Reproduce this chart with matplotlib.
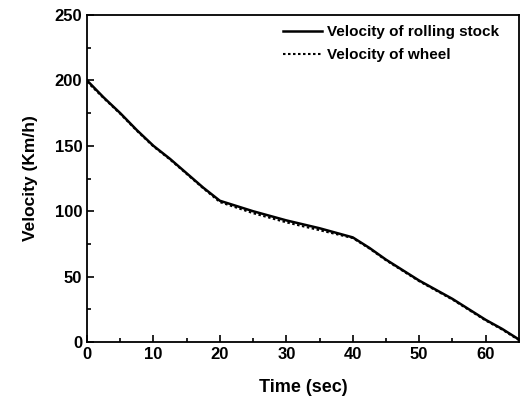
import matplotlib
matplotlib.use("Agg")
import matplotlib.pyplot as plt
from matplotlib.ticker import MultipleLocator

# values
timeSec = [0, 2.5, 5, 7.5, 10, 12.5, 15, 17.5, 20, 25, 30, 35, 40, 42.5, 45, 47.5, 50, 52.5, 55, 57.5, 60, 62.5, 65]
velStock = [200, 187, 175, 162, 150, 140, 129, 118, 108, 100, 93, 87, 80, 72, 63, 55, 47, 40, 33, 25, 17, 10, 2]
velWheel = [199, 186.5, 174.5, 161.5, 149.5, 139.5, 128.5, 117.5, 107, 98.5, 91.5, 85.5, 79.5, 71.5, 62.5, 54.5, 46.5, 39.5, 32.5, 24.5, 16.5, 9.5, 1.5]

plt.rcParams["font.family"] = ["Liberation Sans", "DejaVu Sans"]
plt.rcParams["font.weight"] = "bold"
plt.rcParams["axes.labelweight"] = "bold"

fig = plt.figure(figsize=(5.22, 4.01), dpi=100)
ax = fig.add_axes([0.1667, 0.147, 0.8273, 0.8156])

ax.plot(timeSec, velStock, color="black", lw=1.8, ls="-", label="Velocity of rolling stock")
ax.plot(timeSec, velWheel, color="black", lw=1.5, ls=(0, (1.2, 1.2)), label="Velocity of wheel")

ax.set_xlim(0, 65)
ax.set_ylim(0, 250)
ax.xaxis.set_major_locator(MultipleLocator(10))
ax.xaxis.set_minor_locator(MultipleLocator(5))
ax.yaxis.set_major_locator(MultipleLocator(50))
ax.yaxis.set_minor_locator(MultipleLocator(25))
ax.tick_params(which="both", direction="in", labelsize=12, width=1.2)
ax.tick_params(which="major", length=5)
ax.tick_params(which="minor", length=3)
for s in ax.spines.values():
    s.set_linewidth(1.3)

ax.set_xlabel("Time (sec)", fontsize=13, labelpad=12)
ax.set_ylabel("Velocity (Km/h)", fontsize=12.5, labelpad=12)

ax.legend(loc="upper right", frameon=False, fontsize=11, handlelength=2.6,
          handletextpad=0.3, borderaxespad=0.9, labelspacing=0.6,
          bbox_to_anchor=(1.0, 1.03))

fig.savefig("out.png", dpi=100)
